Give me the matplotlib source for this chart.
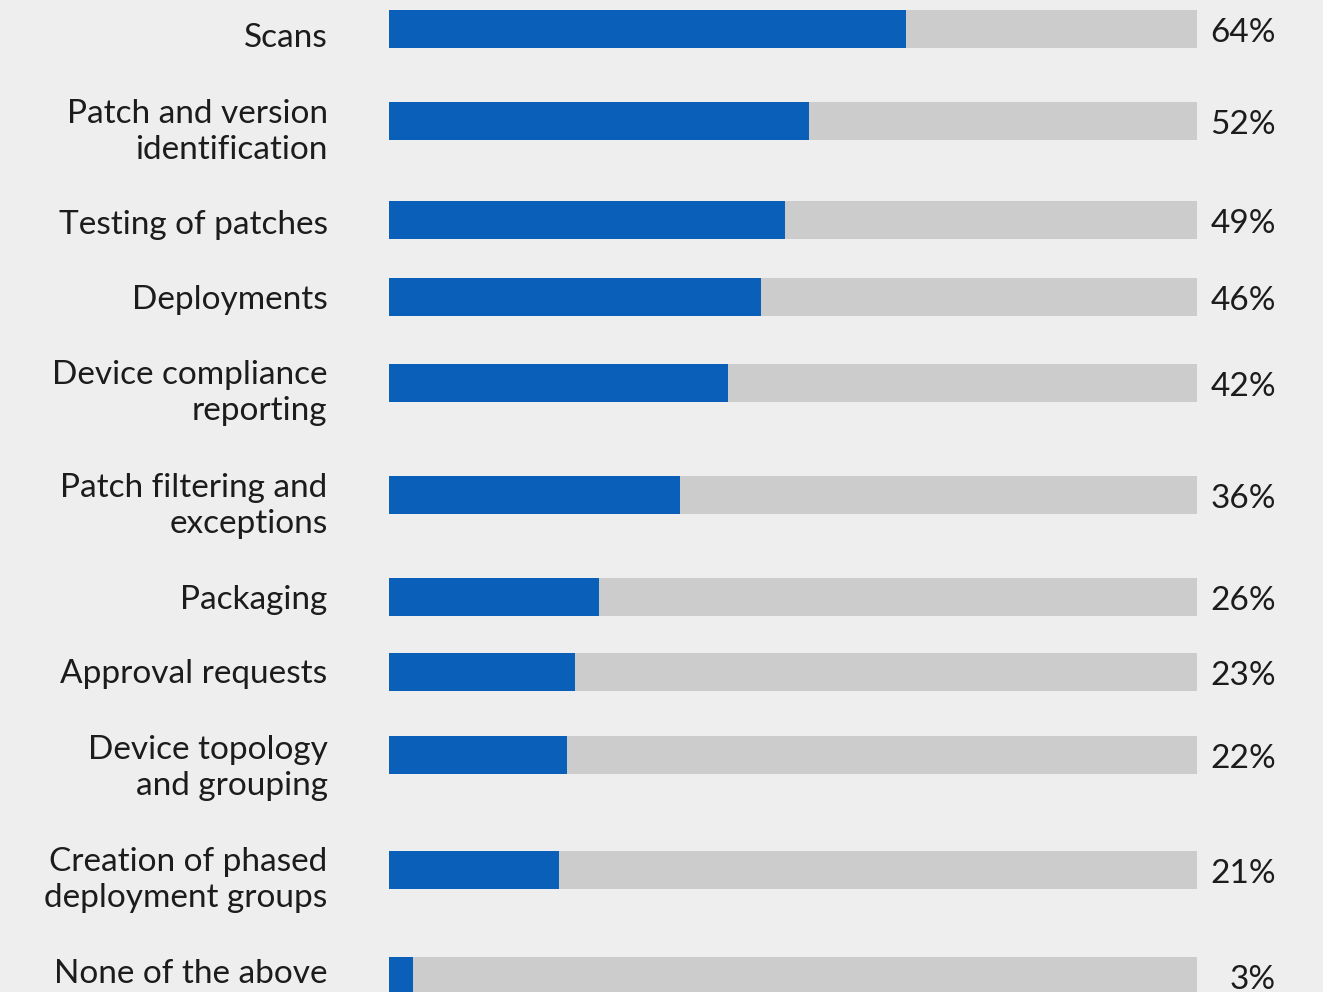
import matplotlib.pyplot as plt

# survey answers, share of respondents (%)
categories = [
    "Scans",
    "Patch and version\nidentification",
    "Testing of patches",
    "Deployments",
    "Device compliance\nreporting",
    "Patch filtering and\nexceptions",
    "Packaging",
    "Approval requests",
    "Device topology\nand grouping",
    "Creation of phased\ndeployment groups",
    "None of the above",
]
values = [64, 52, 49, 46, 42, 36, 26, 23, 22, 21, 3]

# vertical row centres (rows are spaced unevenly because of wrapped labels)
row_y = [29, 121, 220, 297, 383, 495, 597, 672, 755, 870, 976]
label_y = [38, 132, 225, 300, 393, 506, 600, 674, 768, 880, 974]

BLUE = "#0a60b8"
TRACK = "#cccccc"
BG = "#eeeeee"
TEXT = "#1c1c1c"

plt.rcParams["font.family"] = ["Lato", "DejaVu Sans"]

fig = plt.figure(figsize=(13.23, 9.92), dpi=100, facecolor=BG)
ax = fig.add_axes([389 / 1323, 0, 808 / 1323, 1])
ax.set_facecolor(BG)
ax.set_xlim(0, 100)
ax.set_ylim(992, 0)
ax.axis("off")

bar_h = 38
ax.barh(row_y, [100] * len(values), height=bar_h, color=TRACK, linewidth=0)
ax.barh(row_y, values, height=bar_h, color=BLUE, linewidth=0)

for y, ly, cat, v in zip(row_y, label_y, categories, values):
    ax.text(-7.6, ly, cat, ha="right", va="center", fontsize=24,
            color=TEXT, linespacing=1.24, clip_on=False)
    ax.text(109.8, y + 4, f"{v}%", ha="right", va="center", fontsize=24,
            color=TEXT, clip_on=False)

fig.savefig("out.png", dpi=100, facecolor=BG)
